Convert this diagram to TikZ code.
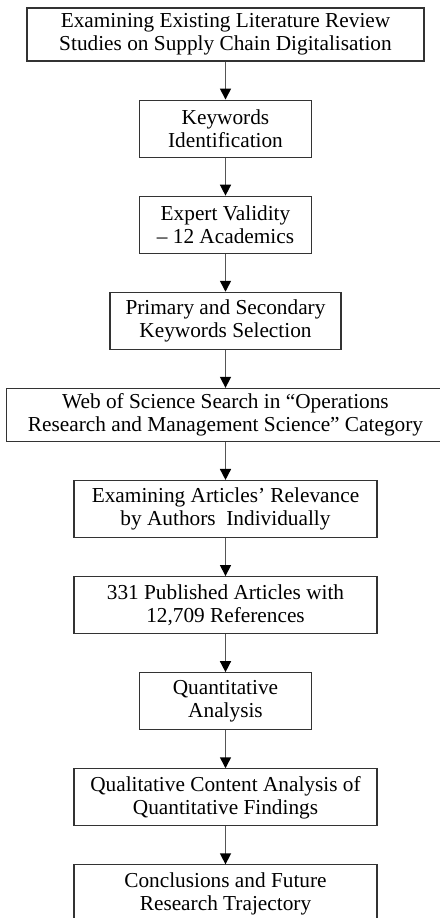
\documentclass[tikz,border=0pt]{standalone}
\usepackage{fontspec}
\setmainfont{Liberation Serif}
\usetikzlibrary{arrows.meta,positioning}
\definecolor{LineGray}{HTML}{555555}
\definecolor{EdgeGray}{HTML}{333333}
\tikzset{
  stage/.style={draw=EdgeGray,line width=1.1pt,align=center,minimum height=57pt,
                inner sep=2pt,font=\fontsize{21.3}{23}\selectfont},
  flow/.style={-{Triangle[length=11pt,width=11pt,color=black]},line width=1.5pt,draw=LineGray}
}

\begin{document}
\begin{tikzpicture}[x=1pt,y=1pt,node distance=38pt]
  \useasboundingbox (0,0) rectangle (439,-918);
  \node[stage,minimum width=397pt,minimum height=53pt] (review) at (225.5,-34.5)
    {Examining Existing Literature Review\\Studies on Supply Chain Digitalisation};
  \node[stage,below=of review,minimum width=172pt] (keywords) {Keywords\\Identification};
  \node[stage,below=of keywords,minimum width=172pt] (experts) {Expert Validity\\– 12 Academics};
  \node[stage,below=of experts,minimum width=231pt] (selection) {Primary and Secondary\\Keywords Selection};
  \node[stage,below=of selection,minimum width=438pt,minimum height=53pt] (search)
    {Web of Science Search in “Operations\\Research and Management Science” Category};
  \node[stage,below=of search,minimum width=303pt] (relevance) {Examining Articles’ Relevance\\by Authors~ Individually};
  \node[stage,below=of relevance,minimum width=303pt] (articles) {331 Published Articles with\\12,709 References};
  \node[stage,below=of articles,minimum width=172pt] (quant) {Quantitative\\Analysis};
  \node[stage,below=of quant,minimum width=303pt] (qual) {Qualitative Content Analysis of\\Quantitative Findings};
  \node[stage,below=of qual,minimum width=303pt] (future) {Conclusions and Future\\Research Trajectory};

  \draw[flow] (review) -- (keywords);
  \draw[flow] (keywords) -- (experts);
  \draw[flow] (experts) -- (selection);
  \draw[flow] (selection) -- (search);
  \draw[flow] (search) -- (relevance);
  \draw[flow] (relevance) -- (articles);
  \draw[flow] (articles) -- (quant);
  \draw[flow] (quant) -- (qual);
  \draw[flow] (qual) -- (future);
\end{tikzpicture}
\end{document}
